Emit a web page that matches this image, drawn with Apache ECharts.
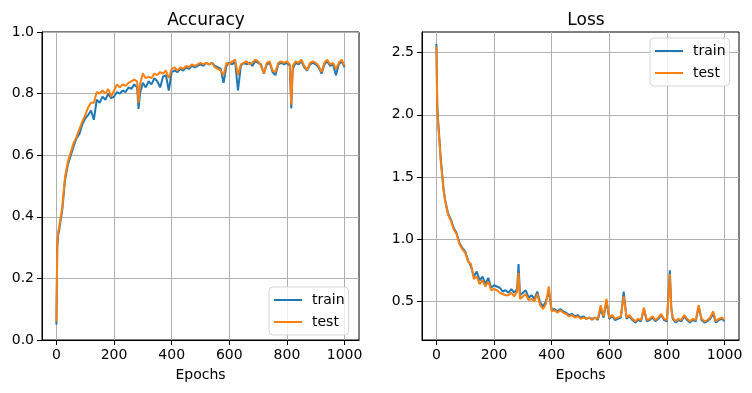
<!DOCTYPE html>
<html>
<head>
<meta charset="utf-8">
<script src="https://cdn.jsdelivr.net/npm/echarts@6/dist/echarts.min.js"></script>
<style>html,body{margin:0;padding:0;background:#fff}#c{width:752px;height:393px}</style>
</head>
<body>
<div id="c"></div>
<script>
const epochs = [0,3,6,10,15,20,25,30,40,50,60,70,80,90,100,110,120,130,140,150,160,170,180,190,200,210,220,230,240,250,260,270,280,285,290,300,310,320,330,340,350,360,370,380,390,400,410,420,430,440,450,460,470,480,490,500,510,520,530,540,550,560,570,580,590,600,610,620,630,640,650,660,670,680,690,700,710,720,730,740,750,760,770,780,790,800,810,815,820,830,840,850,860,870,880,890,900,910,920,930,940,950,960,970,980,990,1000];

const accTrain = [0.05,0.30,0.34,0.36,0.39,0.42,0.47,0.52,0.57,0.60,0.63,0.655,0.67,0.70,0.72,0.73,0.745,0.715,0.78,0.77,0.79,0.78,0.80,0.785,0.79,0.805,0.80,0.81,0.805,0.82,0.815,0.83,0.82,0.75,0.80,0.835,0.82,0.84,0.83,0.85,0.84,0.82,0.855,0.86,0.81,0.87,0.875,0.87,0.88,0.875,0.885,0.88,0.89,0.885,0.89,0.895,0.89,0.90,0.895,0.90,0.89,0.885,0.88,0.835,0.89,0.90,0.895,0.905,0.81,0.89,0.90,0.895,0.90,0.89,0.905,0.90,0.895,0.865,0.895,0.90,0.87,0.86,0.895,0.90,0.895,0.90,0.89,0.752,0.88,0.90,0.895,0.905,0.885,0.875,0.895,0.90,0.895,0.885,0.865,0.895,0.905,0.89,0.895,0.86,0.895,0.905,0.885];

const accTest = [0.06,0.31,0.35,0.37,0.40,0.43,0.48,0.53,0.58,0.61,0.64,0.66,0.685,0.71,0.73,0.755,0.77,0.77,0.805,0.80,0.81,0.80,0.815,0.79,0.81,0.83,0.82,0.83,0.825,0.835,0.84,0.845,0.84,0.77,0.83,0.865,0.85,0.855,0.85,0.865,0.86,0.87,0.865,0.875,0.85,0.88,0.885,0.875,0.885,0.88,0.89,0.885,0.895,0.89,0.895,0.90,0.895,0.90,0.895,0.90,0.885,0.88,0.875,0.86,0.90,0.895,0.905,0.91,0.86,0.895,0.90,0.905,0.895,0.90,0.91,0.905,0.89,0.866,0.90,0.905,0.875,0.87,0.90,0.905,0.90,0.905,0.895,0.765,0.89,0.905,0.90,0.91,0.89,0.877,0.90,0.905,0.90,0.89,0.87,0.90,0.91,0.895,0.90,0.88,0.90,0.91,0.89];

const lossTrain = [2.57,2.07,1.95,1.82,1.65,1.52,1.40,1.32,1.21,1.16,1.09,1.05,0.97,0.93,0.90,0.83,0.78,0.70,0.74,0.67,0.70,0.64,0.69,0.61,0.63,0.62,0.61,0.58,0.59,0.57,0.60,0.57,0.60,0.80,0.55,0.57,0.59,0.53,0.55,0.52,0.58,0.49,0.46,0.50,0.58,0.43,0.44,0.42,0.44,0.42,0.41,0.39,0.40,0.38,0.39,0.37,0.38,0.36,0.37,0.36,0.37,0.35,0.44,0.37,0.50,0.36,0.38,0.35,0.36,0.37,0.58,0.36,0.38,0.35,0.33,0.35,0.34,0.44,0.34,0.35,0.37,0.34,0.36,0.39,0.35,0.34,0.75,0.45,0.36,0.33,0.35,0.34,0.38,0.35,0.33,0.35,0.34,0.46,0.35,0.33,0.34,0.36,0.40,0.33,0.35,0.36,0.34];

const lossTest = [2.55,2.05,1.93,1.80,1.63,1.51,1.39,1.31,1.20,1.15,1.08,1.04,0.96,0.92,0.89,0.82,0.80,0.68,0.70,0.64,0.67,0.62,0.66,0.59,0.60,0.59,0.57,0.56,0.55,0.55,0.57,0.54,0.58,0.73,0.52,0.54,0.56,0.51,0.52,0.50,0.56,0.47,0.44,0.48,0.62,0.42,0.43,0.41,0.43,0.41,0.40,0.38,0.39,0.37,0.38,0.36,0.37,0.36,0.37,0.35,0.37,0.36,0.47,0.38,0.52,0.37,0.39,0.36,0.37,0.38,0.54,0.37,0.39,0.36,0.34,0.36,0.35,0.45,0.35,0.36,0.38,0.35,0.37,0.40,0.36,0.35,0.72,0.44,0.37,0.34,0.36,0.35,0.39,0.36,0.34,0.36,0.35,0.47,0.36,0.34,0.35,0.37,0.42,0.34,0.36,0.37,0.35];

const xTicks = [0,200,400,600,800,1000];
const accTicks = [0,0.2,0.4,0.6,0.8,1.0];
const lossTicks = [0.5,1.0,1.5,2.0,2.5];
const seriesNames = ['train','test'];
const titles = ['Accuracy','Loss'];

const FONT = 'DejaVu Sans';
const BLUE = '#1f77b4', ORANGE = '#ff7f0e';
const pair = (ys) => epochs.map((e,i)=>[e, ys[i]]);

function xAxis(gi){
  return {
    type:'value', gridIndex:gi, min:-50, max:1050,
    name:'Epochs', nameLocation:'middle', nameGap:28,
    nameTextStyle:{fontFamily:FONT,fontSize:14,color:'#000'},
    axisLine:{show:true,onZero:false,lineStyle:{color:'#000',width:1}},
    axisTick:{show:true,length:5,customValues:xTicks,lineStyle:{color:'#000',width:1}},
    axisLabel:{customValues:xTicks,margin:8,fontFamily:FONT,fontSize:14,color:'#000',formatter:v=>String(v)},
    splitLine:{show:true,lineStyle:{color:'#b0b0b0',width:1}}
  };
}
function yAxis(gi,min,max,ticks){
  return {
    type:'value', gridIndex:gi, min:min, max:max,
    axisLine:{show:true,onZero:false,lineStyle:{color:'#000',width:1}},
    axisTick:{show:true,length:5,customValues:ticks,lineStyle:{color:'#000',width:1}},
    axisLabel:{customValues:ticks,margin:8,fontFamily:FONT,fontSize:14,color:'#000',formatter:v=>v.toFixed(1)},
    splitLine:{show:true,lineStyle:{color:'#b0b0b0',width:1}}
  };
}
function line(name,gi,data,color){
  return {name:name,type:'line',xAxisIndex:gi,yAxisIndex:gi,data:data,showSymbol:false,symbol:'none',
    lineStyle:{color:color,width:2},itemStyle:{color:color},animation:false};
}
const legendCommon = {
  orient:'vertical', icon:'rect', itemWidth:28, itemHeight:2, itemGap:8,
  backgroundColor:'rgba(255,255,255,0.8)', borderColor:'#d5d5d5', borderWidth:1, borderRadius:4,
  padding:[6,4,6,5],
  textStyle:{fontFamily:FONT,fontSize:14,color:'#000',padding:[0,0,0,5]}, data:seriesNames
};

const chart = echarts.init(document.getElementById('c'),null,{renderer:'canvas'});
chart.setOption({
  animation:false,
  backgroundColor:'#fff',
  title:[
    {text:titles[0],left:201,top:7,textAlign:'center',textStyle:{fontFamily:FONT,fontSize:17,fontWeight:'normal',color:'#000'}},
    {text:titles[1],left:581,top:7,textAlign:'center',textStyle:{fontFamily:FONT,fontSize:17,fontWeight:'normal',color:'#000'}}
  ],
  grid:[
    {left:42,right:393,top:32,bottom:53,show:true,borderColor:'#000',borderWidth:1},
    {left:422,right:13,top:32,bottom:53,show:true,borderColor:'#000',borderWidth:1}
  ],
  legend:[
    Object.assign({},legendCommon,{left:269,top:287}),
    Object.assign({},legendCommon,{left:650,top:38})
  ],
  xAxis:[xAxis(0),xAxis(1)],
  yAxis:[yAxis(0,0,1,accTicks),yAxis(1,0.19,2.666,lossTicks)],
  series:[
    line(seriesNames[0],0,pair(accTrain),BLUE),
    line(seriesNames[1],0,pair(accTest),ORANGE),
    line(seriesNames[0],1,pair(lossTrain),BLUE),
    line(seriesNames[1],1,pair(lossTest),ORANGE)
  ]
});
</script>
</body>
</html>
